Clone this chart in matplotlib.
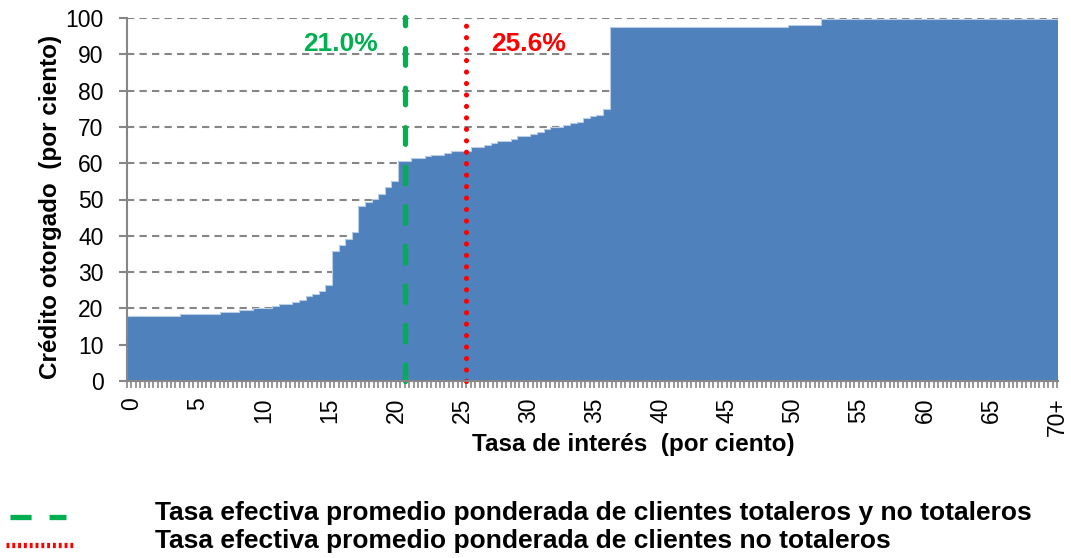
import matplotlib
matplotlib.use("Agg")
import matplotlib.pyplot as plt
from matplotlib.ticker import MultipleLocator, FixedLocator
from matplotlib.lines import Line2D

# ---- data ----
# start of each step on the interest-rate axis (percent) and cumulative credit (percent)
tasa_inicio = [0, 4, 7, 8.5, 9.5, 11, 11.5, 12.5, 13, 13.5, 14, 14.5, 15, 15.5, 16,
               16.5, 17, 17.5, 18, 18.5, 19, 19.5, 20, 20.5, 21.5, 22.5, 23, 24,
               24.5, 26, 27, 27.5, 28, 29, 29.5, 30.5, 31, 31.5, 32, 33, 33.5, 34,
               34.5, 35, 35.5, 36, 36.5, 50, 52.5]
credito = [18.0, 18.5, 19.1, 19.6, 20.2, 20.6, 21.2, 21.8, 22.4, 23.3, 23.9, 24.9, 26.5,
           35.8, 37.4, 39.0, 41.0, 48.3, 49.3, 50.2, 51.4, 53.5, 55.0, 60.7, 61.5,
           61.9, 62.3, 62.8, 63.4, 64.4, 65.0, 65.6, 66.1, 66.7, 67.6, 68.1, 68.7,
           69.3, 69.9, 70.4, 71.0, 71.4, 72.4, 72.9, 73.4, 74.9, 97.6, 98.2, 99.6]
tasa_max = 70.4
tick_vals = [0, 5, 10, 15, 20, 25, 30, 35, 40, 45, 50, 55, 60, 65, 70]
tick_labels = ["0", "5", "10", "15", "20", "25", "30", "35", "40", "45", "50",
               "55", "60", "65", "70+"]
tasa_total = 21.0
tasa_no_totaleros = 25.6
etiqueta_total = "21.0%"
etiqueta_no_tot = "25.6%"
leyenda = ["Tasa efectiva promedio ponderada de clientes totaleros y no totaleros",
           "Tasa efectiva promedio ponderada de clientes no totaleros"]

# ---- style ----
BLUE = "#4F81BD"
GREEN = "#00B050"
RED = "#FF0000"
GRAY = "#868686"
plt.rcParams['font.family'] = ['Liberation Sans', 'DejaVu Sans']

W, H = 1071, 558
fig = plt.figure(figsize=(W / 100, H / 100), dpi=100)
ax = fig.add_axes([127 / W, 1 - 381 / H, (1058 - 127) / W, (381 - 18) / H])

edges = tasa_inicio + [tasa_max]
ax.stairs(credito, edges, fill=True, color=BLUE, linewidth=0, zorder=2)
ax.stairs(credito, edges, fill=False, color="#B9CDE5", linewidth=0.8, zorder=2.1,
          baseline=None)

ax.set_xlim(0, tasa_max)
ax.set_ylim(0, 100)

# grid
for y in range(10, 101, 10):
    ax.axhline(y, color=GRAY, lw=1.5, ls=(0, (3.5, 2.5)), zorder=1)

# reference lines (drawn bottom -> top so the pattern starts at the axis)
ax.plot([tasa_total, tasa_total], [0, 100.3], color=GREEN, lw=3.8,
        dashes=(3.15, 4.34), dash_capstyle='round', zorder=4, clip_on=False)
ax.plot([tasa_no_totaleros, tasa_no_totaleros], [0, 100], color=RED, lw=3.7,
        dashes=(0.01, 2.22), dash_capstyle='round', zorder=4, clip_on=False)

fig.text(341 / W, 1 - 44 / H, etiqueta_total, color=GREEN,
         fontsize=19, fontweight='bold', ha='center', va='center')
fig.text(529 / W, 1 - 44 / H, etiqueta_no_tot, color=RED,
         fontsize=19, fontweight='bold', ha='center', va='center')

# spines
for s in ['top', 'right']:
    ax.spines[s].set_visible(False)
for s in ['left', 'bottom']:
    ax.spines[s].set_color(GRAY)
    ax.spines[s].set_linewidth(1.5)
    ax.spines[s].set_zorder(5)

# y axis
ax.yaxis.set_major_locator(MultipleLocator(10))
ax.tick_params(axis='y', which='major', direction='out', length=6, width=1.5,
               color=GRAY, labelsize=16.5, pad=11)

# x axis
ax.xaxis.set_major_locator(FixedLocator([v + 0.35 for v in tick_vals]))
ax.set_xticklabels(tick_labels, rotation=90)
ax.xaxis.set_minor_locator(FixedLocator([i / 3 for i in range(0, 212)]))
ax.tick_params(axis='x', which='major', length=0, labelsize=16.5, pad=12)
ax.tick_params(axis='x', which='minor', direction='out', length=5, width=1.2,
               color=GRAY)

fig.text(633 / W, 1 - 444 / H, "Tasa de interés  (por ciento)", fontsize=17.5,
         fontweight='bold', ha='center', va='center')
fig.text(51 / W, 1 - 207 / H, "Crédito otorgado  (por ciento)", fontsize=17.5,
         fontweight='bold', ha='center', va='center', rotation=90)

# legend (manual)
fig.add_artist(Line2D([10 / W, 66 / W], [1 - 517 / H, 1 - 517 / H], color=GREEN, lw=3.8,
                      dashes=(4.0, 3.4), transform=fig.transFigure))
fig.add_artist(Line2D([6 / W, 75 / W], [1 - 545 / H, 1 - 545 / H], color=RED, lw=3.8,
                      dashes=(0.55, 0.55), transform=fig.transFigure))
fig.text(155 / W, 1 - 513 / H, leyenda[0], fontsize=19, fontweight='bold',
         ha='left', va='center')
fig.text(155 / W, 1 - 541 / H, leyenda[1], fontsize=19, fontweight='bold',
         ha='left', va='center')

fig.savefig("out.png", dpi=100)
